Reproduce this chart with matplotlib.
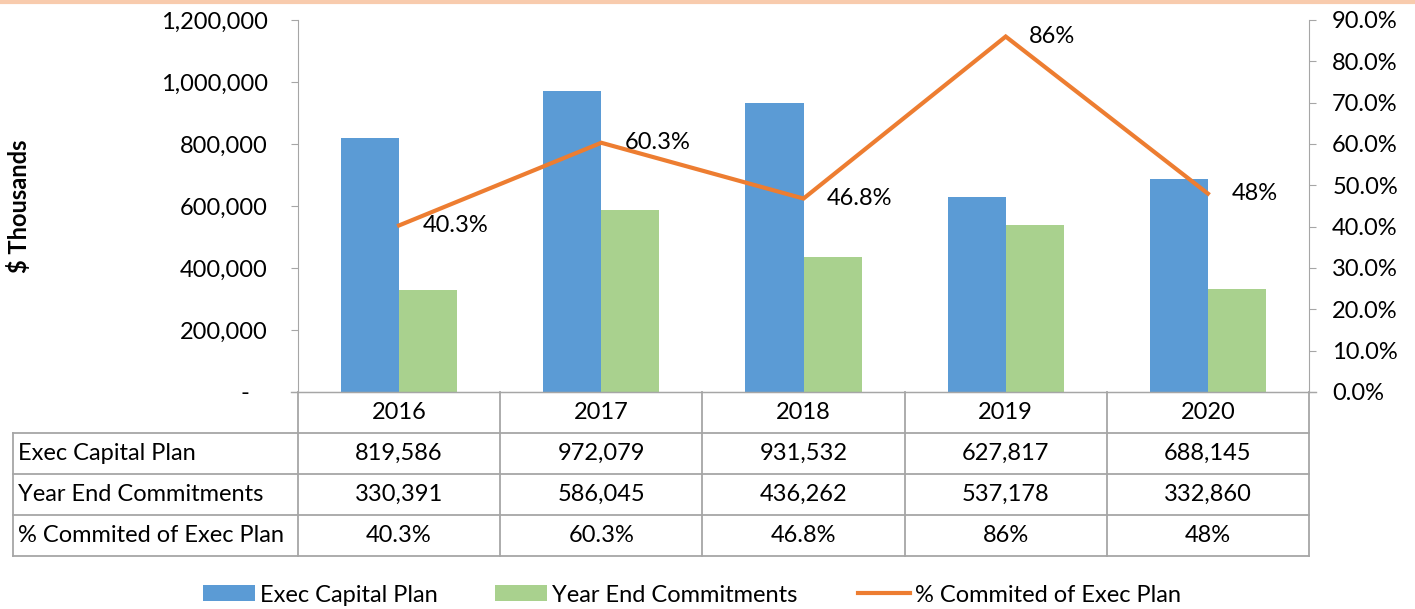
import matplotlib
matplotlib.use("Agg")
import matplotlib.pyplot as plt
from matplotlib.lines import Line2D
from matplotlib.patches import Patch
import matplotlib.transforms as mtransforms

years = ["2016", "2017", "2018", "2019", "2020"]
exec_plan = [819586, 972079, 931532, 627817, 688145]
year_end = [330391, 586045, 436262, 537178, 332860]
pct = [40.3, 60.3, 46.8, 86, 48]
pct_labels = ["40.3%", "60.3%", "46.8%", "86%", "48%"]
row_names = ["Exec Capital Plan", "Year End Commitments", "% Commited of Exec Plan"]
left_ticks = [0, 200000, 400000, 600000, 800000, 1000000, 1200000]
right_ticks = [0, 10, 20, 30, 40, 50, 60, 70, 80, 90]

BLUE = "#5B9BD5"
GREEN = "#A9D18E"
ORANGE = "#ED7D31"
GRID = "#A6A6A6"
FONT = "Lato"
FS = 17

plt.rcParams["font.family"] = [FONT, "DejaVu Sans"]

W, H = 1415, 609
fig = plt.figure(figsize=(W / 100, H / 100), dpi=100)
L, R, T, B = 298, 1309, 20, 392
ax = fig.add_axes([L / W, 1 - B / H, (R - L) / W, (B - T) / H])

x = list(range(len(years)))
bw = 0.287
ax.bar([i - bw / 2 for i in x], exec_plan, width=bw, color=BLUE, zorder=2)
ax.bar([i + bw / 2 for i in x], year_end, width=bw, color=GREEN, zorder=2)
ax.set_xlim(-0.5, len(years) - 0.5)
ax.set_ylim(0, 1200000)
ax.set_yticks(left_ticks)
ax.set_yticklabels(["-   " if v == 0 else f"{v:,}" for v in left_ticks], fontsize=FS)
ax.set_xticks([])
for s in ["top", "right"]:
    ax.spines[s].set_visible(False)
ax.spines["left"].set_color(GRID)
ax.spines["bottom"].set_color(GRID)
ax.tick_params(axis="y", colors=GRID, labelcolor="black", length=5.2, pad=16.5)
ax.set_ylabel("$ Thousands", fontsize=FS, fontweight="bold", labelpad=0)
ax.yaxis.set_label_coords((31 - L) / (R - L), 0.5)

ax2 = ax.twinx()
ax2.set_ylim(0, 90)
ax2.set_yticks(right_ticks)
ax2.set_yticklabels([f"{v:.1f}%" for v in right_ticks], fontsize=FS)
for s in ["top", "left", "bottom"]:
    ax2.spines[s].set_visible(False)
ax2.spines["right"].set_color(GRID)
ax2.tick_params(axis="y", colors=GRID, labelcolor="black", length=5.2, pad=11.5)
ax2.plot(x, pct, color=ORANGE, lw=3, zorder=3, solid_joinstyle="miter")
for i, (v, lab) in enumerate(zip(pct, pct_labels)):
    ax2.annotate(lab, (i, v), xytext=(17, 0), textcoords="offset points",
                 ha="left", va="center", fontsize=FS)

trans_ax = ax.transAxes
ext = 7 / (R - L)
ax.add_line(Line2D([-ext, 1 + ext], [0, 0], transform=trans_ax, color=GRID, lw=1, clip_on=False))

# data table
rh = 41 / (B - T)
lab_left = (13 - L) / (R - L)
blend = mtransforms.blended_transform_factory(ax.transData, ax.transAxes)
nrows = len(row_names)
bottom = -rh * (nrows + 1)
for i in range(len(years) + 1):
    ax.add_line(Line2D([i - 0.5, i - 0.5], [0, bottom], transform=blend, color=GRID, lw=1.3, clip_on=False))
ax.add_line(Line2D([lab_left, lab_left], [-rh, bottom], transform=trans_ax, color=GRID, lw=1.3, clip_on=False))
for r in range(1, nrows + 2):
    ax.add_line(Line2D([lab_left, 1], [-rh * r, -rh * r], transform=trans_ax, color=GRID, lw=1.3, clip_on=False))
for i, yv in enumerate(years):
    ax.text(i, -rh * 0.5, yv, transform=blend, ha="center", va="center", fontsize=FS)
rows = [[f"{v:,}" for v in exec_plan], [f"{v:,}" for v in year_end], pct_labels]
for r, (name, vals) in enumerate(zip(row_names, rows)):
    yc = -rh * (r + 1.5)
    ax.text(lab_left + 5 / (R - L), yc, name, transform=trans_ax, ha="left", va="center", fontsize=FS)
    for i, v in enumerate(vals):
        ax.text(i, yc, v, transform=blend, ha="center", va="center", fontsize=FS)

# legend: three entries placed separately
handles = [Patch(facecolor=BLUE), Patch(facecolor=GREEN), Line2D([], [], color=ORANGE, lw=3)]
labels = ["Exec Capital Plan", "Year End Commitments", "% Commited of Exec Plan"]
starts = [203, 495, 858]
for h, lab, sx in zip(handles, labels, starts):
    fig.legend([h], [lab], loc="center left", bbox_to_anchor=(sx / W, 1 - 595 / H),
               frameon=False, fontsize=FS, handlelength=2.2, handleheight=0.65,
               handletextpad=0.2, borderpad=0, borderaxespad=0)

fig.add_artist(Line2D([0, 1], [1 - 1.5 / H, 1 - 1.5 / H], transform=fig.transFigure, color="#F8CBAD", lw=3))

fig.savefig("out.png", dpi=100, facecolor="white")
